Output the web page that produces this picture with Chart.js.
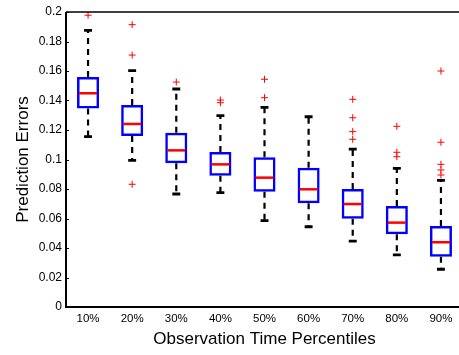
<!DOCTYPE html>
<html>
<head>
<meta charset="utf-8">
<script src="https://cdn.jsdelivr.net/npm/chart.js@4/dist/chart.umd.min.js"></script>
<style>
  html, body { margin: 0; padding: 0; background: #fff; }
  #clip { width: 459px; height: 355px; overflow: hidden; position: relative; }
  #box-chart { position: absolute; left: 0; top: 0; }
</style>
</head>
<body>
<div id="clip"><canvas id="box-chart" width="468" height="355"></canvas></div>
<script>
// Observation time percentiles (categories)
const labels = ['10%', '20%', '30%', '40%', '50%', '60%', '70%', '80%', '90%'];

// Box plot statistics per category
const upperWhisker = [0.1876, 0.1602, 0.1478, 0.1297, 0.1354, 0.1290, 0.1071, 0.0940, 0.0859];
const q3 = [0.1559, 0.1369, 0.1182, 0.1051, 0.1015, 0.0944, 0.0800, 0.0685, 0.0549];
const medians = [0.1449, 0.1241, 0.1062, 0.0967, 0.0877, 0.0798, 0.0698, 0.0572, 0.0439];
const q1 = [0.1345, 0.1159, 0.0974, 0.0890, 0.0782, 0.0703, 0.0599, 0.0493, 0.0341];
const lowerWhisker = [0.1155, 0.0994, 0.0766, 0.0775, 0.0585, 0.0544, 0.0447, 0.0353, 0.0256];

// Outliers per category
const outliers = [
  [0.1978],
  [0.1914, 0.1708, 0.0832],
  [0.1525],
  [0.1403, 0.1385],
  [0.1544, 0.1419],
  [],
  [0.1408, 0.1283, 0.1189, 0.1137],
  [0.1225, 0.1049, 0.1019],
  [0.1600, 0.1117, 0.0967, 0.0929, 0.0895]
];

// Y axis ticks
const yTicks = [0, 0.02, 0.04, 0.06, 0.08, 0.1, 0.12, 0.14, 0.16, 0.18, 0.2];

const FONT = '"Liberation Sans", Arial, Helvetica, sans-serif';

const outlierPoints = [];
outliers.forEach((list, i) => list.forEach(v => outlierPoints.push({ x: labels[i], y: v })));

// Whiskers, caps, medians and the axes frame, drawn through the chart's scales
const boxPlotExtras = {
  id: 'boxPlotExtras',
  beforeDatasetsDraw(chart) {
    const { ctx, scales: { x, y } } = chart;
    const capHalf = (x.getPixelForValue(1) - x.getPixelForValue(0)) * 0.09;
    ctx.save();
    ctx.strokeStyle = '#000';
    labels.forEach((_, i) => {
      const px = x.getPixelForValue(i);
      ctx.lineWidth = 2.2;
      ctx.setLineDash([6, 5]);
      ctx.beginPath();
      ctx.moveTo(px, y.getPixelForValue(q3[i]));
      ctx.lineTo(px, y.getPixelForValue(upperWhisker[i]));
      ctx.moveTo(px, y.getPixelForValue(q1[i]));
      ctx.lineTo(px, y.getPixelForValue(lowerWhisker[i]));
      ctx.stroke();
      ctx.setLineDash([]);
      ctx.lineWidth = 2.8;
      ctx.beginPath();
      [upperWhisker[i], lowerWhisker[i]].forEach(v => {
        const py = y.getPixelForValue(v);
        ctx.moveTo(px - capHalf, py);
        ctx.lineTo(px + capHalf, py);
      });
      ctx.stroke();
    });
    ctx.restore();
  },
  afterDatasetsDraw(chart) {
    const { ctx, chartArea: a, scales: { y } } = chart;
    const bars = chart.getDatasetMeta(0).data;
    ctx.save();
    ctx.strokeStyle = '#ff0000';
    ctx.lineWidth = 2.5;
    bars.forEach((bar, i) => {
      const py = y.getPixelForValue(medians[i]);
      const half = bar.width / 2 - 2;
      ctx.beginPath();
      ctx.moveTo(bar.x - half, py);
      ctx.lineTo(bar.x + half, py);
      ctx.stroke();
    });
    // frame: top, left and bottom (the right side falls outside the view)
    ctx.strokeStyle = '#000';
    ctx.lineWidth = 1.5;
    ctx.beginPath();
    ctx.moveTo(a.left, a.top);
    ctx.lineTo(a.right, a.top);
    ctx.stroke();
    ctx.lineWidth = 2;
    ctx.beginPath();
    ctx.moveTo(a.left, a.top);
    ctx.lineTo(a.left, a.bottom);
    ctx.lineTo(a.right, a.bottom);
    ctx.stroke();
    // small inside ticks on the y axis
    ctx.lineWidth = 1;
    ctx.beginPath();
    yTicks.forEach(t => {
      const py = Math.round(y.getPixelForValue(t)) + 0.5;
      ctx.moveTo(a.left, py);
      ctx.lineTo(a.left + 3, py);
    });
    ctx.stroke();
    ctx.restore();
  }
};

new Chart(document.getElementById('box-chart'), {
  type: 'bar',
  data: {
    labels,
    datasets: [
      {
        type: 'bar',
        data: q1.map((lo, i) => [lo, q3[i]]),
        backgroundColor: 'rgba(0,0,0,0)',
        borderColor: '#0000ff',
        borderWidth: 2.5,
        borderSkipped: false,
        categoryPercentage: 1,
        barPercentage: 0.5,
        order: 2
      },
      {
        type: 'line',
        data: outlierPoints,
        showLine: false,
        borderWidth: 0,
        pointStyle: 'cross',
        pointRadius: 3.5,
        pointBorderColor: '#ff0000',
        pointBorderWidth: 1,
        order: 1
      }
    ]
  },
  options: {
    responsive: false,
    animation: false,
    layout: { padding: { top: 12, right: 0, left: 0, bottom: 0 } },
    plugins: { legend: { display: false }, tooltip: { enabled: false } },
    scales: {
      x: {
        type: 'category',
        grid: { display: false, drawTicks: false },
        border: { display: false },
        ticks: { color: '#000', padding: 5, font: { family: FONT, size: 11.5 } },
        title: {
          display: true,
          text: 'Observation Time Percentiles',
          color: '#000',
          font: { family: FONT, size: 17 },
          padding: { top: 0, bottom: 5 }
        },
        afterFit(scale) { scale.height = 48; }
      },
      y: {
        min: 0,
        max: 0.2,
        grid: { display: false, drawTicks: false },
        border: { display: false },
        ticks: {
          stepSize: 0.02,
          color: '#000',
          padding: 4,
          font: { family: FONT, size: 12 },
          callback: (v) => String(Number(v.toFixed(2)))
        },
        title: {
          display: true,
          text: 'Prediction Errors',
          color: '#000',
          font: { family: FONT, size: 17 },
          padding: { top: 13, bottom: 0 }
        },
        afterFit(scale) { scale.width = 66; }
      }
    }
  },
  plugins: [boxPlotExtras]
});
</script>
</body>
</html>
